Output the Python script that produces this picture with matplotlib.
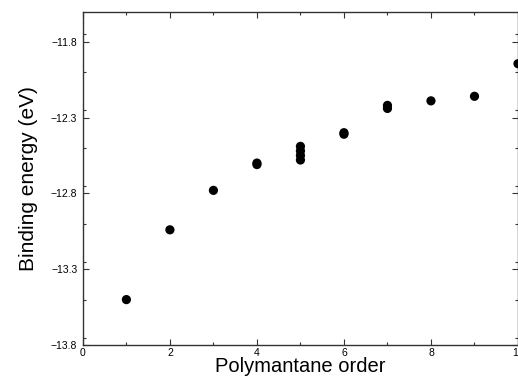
import numpy as np
import matplotlib.pyplot as plt
from matplotlib.ticker import MultipleLocator

plt.rcParams['font.family'] = ['Liberation Sans', 'DejaVu Sans']

# polymantane order vs binding energy (eV), isomers share the same order
order = [1, 2, 3, 4, 4, 5, 5, 5, 5, 6, 6, 7, 7, 8, 9, 10]
energy = [-13.50, -13.04, -12.78, -12.60, -12.61,
          -12.49, -12.52, -12.55, -12.58,
          -12.40, -12.41, -12.22, -12.24, -12.19, -12.16, -11.945]

y_ticks = [-13.8, -13.3, -12.8, -12.3, -11.8]
x_ticks = [0, 2, 4, 6, 8, 10]

fig = plt.figure(figsize=(5.18, 3.78), dpi=100)
ax = fig.add_axes([0.160, 0.087, 0.840, 0.881])

ax.scatter(order, energy, s=44, c='black', edgecolors='none', zorder=3, clip_on=True)

ax.set_xlim(0, 10)
ax.set_ylim(-13.8, -11.605)
ax.set_xticks(x_ticks)
ax.set_xticklabels([str(t) for t in x_ticks])
ax.xaxis.set_minor_locator(MultipleLocator(1))
ax.set_yticks(y_ticks)
ax.set_yticklabels(['\u2212%.1f' % abs(t) for t in y_ticks])
ax.yaxis.set_minor_locator(MultipleLocator(0.25))

ax.tick_params(which='both', direction='in', top=True, right=True,
               labelsize=7.5, width=0.8, color='#333333', pad=2)
ax.tick_params(which='major', length=4)
ax.tick_params(which='minor', length=2)
ax.tick_params(axis='y', pad=4)

for sp in ax.spines.values():
    sp.set_linewidth(1.0)
    sp.set_color('#333333')

ax.set_xlabel('Polymantane order', fontsize=14.5, labelpad=-0.5)
ax.set_ylabel('Binding energy (eV)', fontsize=15, labelpad=9)

fig.savefig('out.png', dpi=100)
